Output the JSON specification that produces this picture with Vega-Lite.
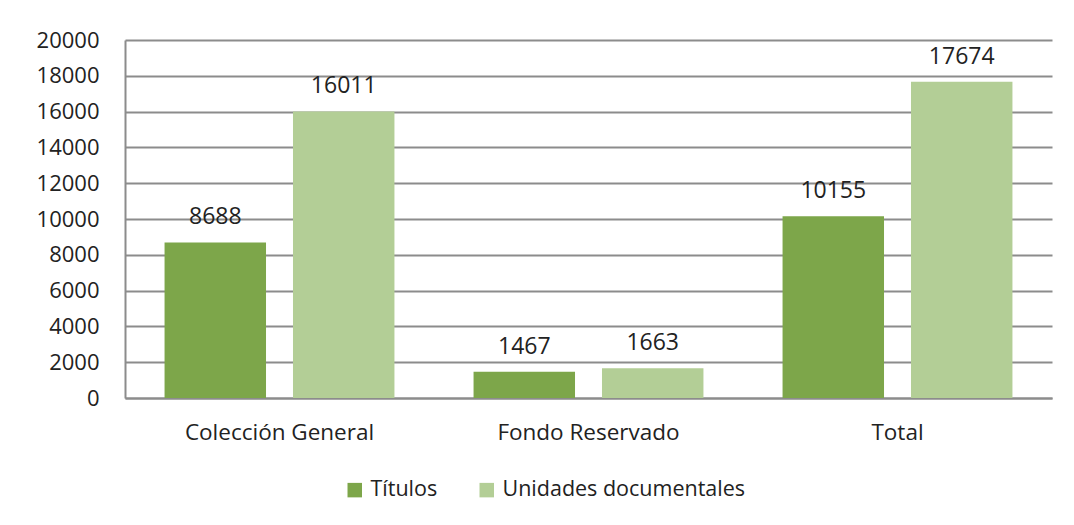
{
  "$schema": "https://vega.github.io/schema/vega-lite/v6.json",
  "autosize": "none",
  "width": 927,
  "height": 358,
  "padding": {"left": 125, "top": 40, "right": 22, "bottom": 127},
  "background": "#ffffff",
  "data": {"values": [
    {"categoria": "Colección General", "serie": "Títulos", "valor": 8688},
    {"categoria": "Colección General", "serie": "Unidades documentales", "valor": 16011},
    {"categoria": "Fondo Reservado", "serie": "Títulos", "valor": 1467},
    {"categoria": "Fondo Reservado", "serie": "Unidades documentales", "valor": 1663},
    {"categoria": "Total", "serie": "Títulos", "valor": 10155},
    {"categoria": "Total", "serie": "Unidades documentales", "valor": 17674}
  ]},
  "encoding": {
    "x": {"field": "categoria", "type": "nominal", "sort": null,
      "scale": {"paddingInner": 0.256, "paddingOuter": 0.128},
      "axis": {"title": null, "labelAngle": 0, "ticks": false, "labelPadding": 23, "labelFontSize": 22.5,
        "labelLimit": 400, "domainColor": "#8c8c8c", "domainWidth": 2}},
    "xOffset": {"field": "serie", "type": "nominal", "scale": {"paddingInner": 0.21, "paddingOuter": 0}},
    "y": {"field": "valor", "type": "quantitative",
      "scale": {"domain": [0, 20000]},
      "axis": {"title": null, "values": [0,2000,4000,6000,8000,10000,12000,14000,16000,18000,20000],
        "ticks": false, "labelPadding": 26, "format": "d", "labelFontSize": 22,
        "domainColor": "#8c8c8c", "domainWidth": 2,
        "gridColor": "#8c8c8c", "gridWidth": 2, "gridOpacity": 1}}
  },
  "layer": [
    {"mark": {"type": "bar"},
     "encoding": {
       "color": {"field": "serie", "type": "nominal",
         "scale": {"domain": ["Títulos", "Unidades documentales"], "range": ["#7da64a", "#b3ce96"]},
         "legend": {"title": null, "orient": "none", "legendX": 219, "legendY": 439, "direction": "horizontal",
           "symbolType": "square", "symbolSize": 210, "symbolStrokeWidth": 0, "labelFontSize": 21.5,
           "labelLimit": 400, "labelFont": "Open Sans", "labelColor": "#222222", "labelOffset": 5, "columnPadding": 38}}
     }},
    {"mark": {"type": "text", "baseline": "bottom", "dy": -13, "font": "Open Sans", "fontSize": 23, "color": "#222222"},
     "encoding": {"text": {"field": "valor", "type": "quantitative", "format": "d"}}}
  ],
  "config": {
    "view": {"stroke": null},
    "axis": {"labelFont": "Open Sans", "labelColor": "#222222"}
  }
}
